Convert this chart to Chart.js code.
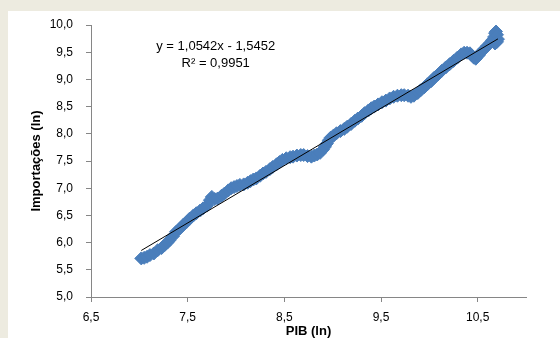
<!DOCTYPE html>
<html>
<head>
<meta charset="utf-8">
<script src="https://cdn.jsdelivr.net/npm/chart.js@4.4.1/dist/chart.umd.min.js"></script>
<style>
  html, body { margin: 0; padding: 0; background: #edebe0; }
  body { width: 560px; height: 338px; position: relative; overflow: hidden; }
  #panel { position: absolute; left: 8px; top: 11px; right: 0; bottom: 0; background: #fff; }
  #wrap { position: absolute; left: 0; top: 0; width: 560px; height: 338px; }
</style>
</head>
<body>
<div id="panel"></div>
<div id="wrap"><canvas id="regChart" width="560" height="338"></canvas></div>
<script>
// PIB (ln) x Importações (ln)
const pibLn = [
  7.02, 7.05, 7.08, 7.11, 7.15, 7.19, 7.23, 7.26, 7.29, 7.31, 7.35, 7.38, 7.42, 7.45, 7.49,
  7.52, 7.56, 7.59, 7.63, 7.66, 7.70, 7.73, 7.75, 7.78, 7.81, 7.85, 7.88, 7.92, 7.95, 7.98,
  8.01, 8.04, 8.08, 8.12, 8.15, 8.18, 8.21, 8.25, 8.28, 8.31, 8.35, 8.38, 8.42, 8.45, 8.48,
  8.52, 8.56, 8.59, 8.63, 8.67, 8.70, 8.74, 8.78, 8.81, 8.84, 8.87, 8.90, 8.92, 8.94, 8.96,
  8.98, 9.01, 9.04, 9.08, 9.12, 9.15, 9.19, 9.23, 9.26, 9.30, 9.33, 9.37, 9.40, 9.43, 9.47,
  9.51, 9.55, 9.59, 9.63, 9.67, 9.71, 9.74, 9.78, 9.81, 9.84, 9.88, 9.91, 9.95, 9.98, 10.02,
  10.05, 10.09, 10.13, 10.17, 10.21, 10.25, 10.29, 10.33, 10.36, 10.39, 10.42, 10.44, 10.46, 10.48, 10.51,
  10.54, 10.57, 10.60, 10.63, 10.65, 10.67, 10.68, 10.69, 10.70, 10.71, 10.70, 10.68
];
const importLn = [
  5.71, 5.72, 5.74, 5.77, 5.80, 5.86, 5.90, 5.95, 6.00, 6.04, 6.12, 6.20, 6.26, 6.32, 6.38,
  6.44, 6.50, 6.54, 6.59, 6.63, 6.68, 6.78, 6.84, 6.80, 6.81, 6.86, 6.90, 6.96, 7.00, 7.02,
  7.04, 7.06, 7.07, 7.10, 7.13, 7.16, 7.18, 7.23, 7.27, 7.30, 7.35, 7.39, 7.44, 7.48, 7.52,
  7.55, 7.57, 7.58, 7.60, 7.61, 7.61, 7.59, 7.58, 7.60, 7.62, 7.65, 7.71, 7.76, 7.82, 7.88,
  7.93, 7.97, 8.01, 8.05, 8.09, 8.13, 8.18, 8.24, 8.28, 8.33, 8.38, 8.43, 8.47, 8.50, 8.54,
  8.58, 8.61, 8.65, 8.68, 8.70, 8.71, 8.71, 8.70, 8.68, 8.70, 8.75, 8.80, 8.86, 8.91, 8.97,
  9.03, 9.09, 9.16, 9.22, 9.28, 9.34, 9.40, 9.46, 9.49, 9.49, 9.48, 9.44, 9.40, 9.38, 9.44,
  9.51, 9.56, 9.62, 9.67, 9.72, 9.78, 9.85, 9.88, 9.82, 9.74, 9.69, 9.66
];

// ajuste linear (Excel)
const slope = 1.0542;
const intercept = -1.5452;
const r2 = 0.9951;

const yTicks = [5.0, 5.5, 6.0, 6.5, 7.0, 7.5, 8.0, 8.5, 9.0, 9.5, 10.0];
const xTicks = [6.5, 7.5, 8.5, 9.5, 10.5];

const fmt = (v, d) => v.toFixed(d).replace('.', ',');

const points = pibLn.map((x, i) => ({ x: x, y: importLn[i] }));
const xMin = Math.min(...pibLn);
const xMax = Math.max(...pibLn);
const trend = [
  { x: xMin, y: slope * xMin + intercept },
  { x: xMax, y: slope * xMax + intercept }
];

const eqLabel = {
  id: 'eqLabel',
  afterDatasetsDraw(chart) {
    const { ctx, scales: { x, y } } = chart;
    const cx = x.getPixelForValue(7.79);
    ctx.save();
    ctx.fillStyle = '#000';
    ctx.font = '13px "Liberation Sans", Arial, sans-serif';
    ctx.textAlign = 'center';
    ctx.textBaseline = 'middle';
    const sign = intercept < 0 ? ' - ' : ' + ';
    ctx.fillText('y = ' + fmt(slope, 4) + 'x' + sign + fmt(Math.abs(intercept), 4), cx, y.getPixelForValue(9.61));
    ctx.fillText('R² = ' + fmt(r2, 4), cx, y.getPixelForValue(9.29));
    ctx.restore();
  }
};

const tickFont = { family: '"Liberation Sans", Arial, sans-serif', size: 12 };
const titleFont = { family: '"Liberation Sans", Arial, sans-serif', size: 13, weight: 'bold', lineHeight: 1 };

new Chart(document.getElementById('regChart'), {
  type: 'scatter',
  data: {
    datasets: [
      {
        label: 'Importações',
        data: points,
        pointStyle: 'rectRot',
        pointRadius: 6.5,
        pointBackgroundColor: '#4a7ebb',
        pointBorderColor: '#4a7ebb',
        pointBorderWidth: 1,
        order: 2
      },
      {
        type: 'line',
        label: 'Linear',
        data: trend,
        borderColor: '#000',
        borderWidth: 1,
        pointRadius: 0,
        fill: false,
        order: 1
      }
    ]
  },
  options: {
    responsive: false,
    animation: false,
    layout: { padding: { top: 25, right: 34, left: 0, bottom: 0 } },
    plugins: { legend: { display: false }, tooltip: { enabled: false } },
    scales: {
      x: {
        type: 'linear',
        min: 6.5,
        max: 11,
        afterBuildTicks: (s) => { s.ticks = xTicks.map(v => ({ value: v })); },
        afterFit: (s) => { s.height = 41; },
        grid: { drawOnChartArea: false, drawTicks: true, tickLength: 5, color: '#868686' },
        border: { color: '#868686' },
        ticks: { font: tickFont, color: '#000', padding: 8, maxRotation: 0, callback: (v) => fmt(v, 1) },
        title: { display: true, text: 'PIB (ln)', font: titleFont, color: '#000', padding: { top: 0, bottom: 0 } }
      },
      y: {
        min: 5,
        max: 10,
        afterBuildTicks: (s) => { s.ticks = yTicks.map(v => ({ value: v })); },
        afterFit: (s) => { s.width = 91; },
        grid: { drawOnChartArea: false, drawTicks: true, tickLength: 5, color: '#868686' },
        border: { color: '#868686' },
        ticks: { font: tickFont, color: '#000', padding: 13, callback: (v) => fmt(v, 1) },
        title: { display: true, text: 'Importações (ln)', font: titleFont, color: '#000', padding: { top: 30, bottom: 0 } }
      }
    }
  },
  plugins: [eqLabel]
});
</script>
</body>
</html>
